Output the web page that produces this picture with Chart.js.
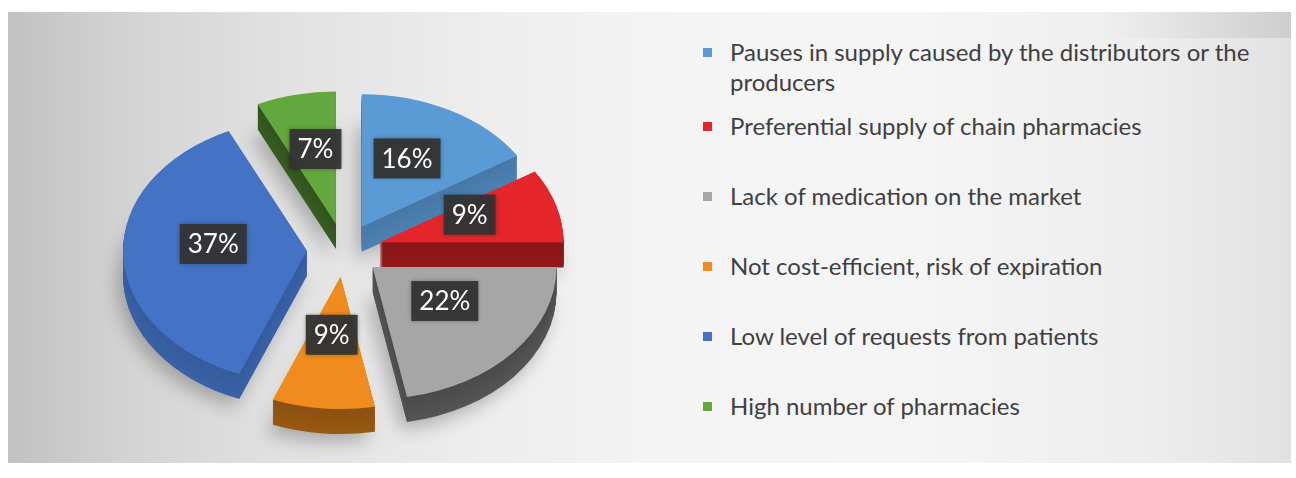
<!DOCTYPE html>
<html>
<head>
<meta charset="utf-8">
<script src="https://cdn.jsdelivr.net/npm/chart.js@4.4.1/dist/chart.umd.min.js"></script>
<style>
  html, body { margin: 0; padding: 0; background: #fff; }
  #wrap { position: relative; width: 1296px; height: 478px; overflow: hidden; }
  #panel {
    position: absolute; left: 8px; top: 12px; width: 1283px; height: 451px;
    background: linear-gradient(to right, #c1c1c1 0%, #d3d3d3 9%, #e2e2e2 22%, #eeeeee 38%, #f4f4f4 52%, #f5f5f5 70%, #eeeeee 88%, #e2e2e2 100%);
  }
  #panel::after {
    content: ''; position: absolute; left: 0; right: 0; top: 0; height: 26px;
    background: linear-gradient(to right, rgba(0,0,0,0) 85%, rgba(0,0,0,0.09) 100%);
  }
  #pie { position: absolute; left: 0; top: 0; }
  #legend {
    position: absolute; left: 703px; top: 37px; width: 580px; margin: 0; padding: 0;
    list-style: none; font-family: Lato, "Open Sans", sans-serif; font-size: 24px;
    line-height: 30px; color: #404040;
  }
  #legend li { position: relative; padding-left: 27px; }
  #legend li + li { margin-top: 40px; }
  #legend li:nth-child(2) { margin-top: 14px; }
  #legend span.sw { position: absolute; left: 0; top: 11px; width: 9px; height: 9px; }
</style>
</head>
<body>
<div id="wrap">
  <div id="panel"></div>
  <canvas id="pie" width="688" height="478"></canvas>
  <ul id="legend"></ul>
</div>
<script>
// data
const categories = [
  'Pauses in supply caused by the distributors or the producers',
  'Preferential supply of chain pharmacies',
  'Lack of medication on the market',
  'Not cost-efficient, risk of expiration',
  'Low level of requests from patients',
  'High number of pharmacies'
];
const shares = [16, 9, 22, 9, 37, 7];
const sliceColors = ['#5b9bd5', '#e4262b', '#a6a6a6', '#f08c1e', '#4472c4', '#62a83d'];
// how dark the side wall of each slice is
const sideShade = [0.78, 0.6, 0.45, 0.58, 0.8, 0.5];

// 3d look
const tilt = 0.72;
const depth = 25;
const explode = 37;

// html legend
const legendEl = document.getElementById('legend');
categories.forEach((name, i) => {
  const li = document.createElement('li');
  const sw = document.createElement('span');
  sw.className = 'sw';
  sw.style.background = sliceColors[i];
  li.appendChild(sw);
  li.appendChild(document.createTextNode(name));
  legendEl.appendChild(li);
});

function squash(ctx, cy) {
  ctx.translate(0, cy);
  ctx.scale(1, tilt);
  ctx.translate(0, -cy);
}

// draw an arc pushed out from the centre
function drawOut(ctx, a) {
  const mid = (a.startAngle + a.endAngle) / 2;
  ctx.save();
  ctx.translate(Math.cos(mid) * explode, Math.sin(mid) * explode);
  a.draw(ctx);
  ctx.restore();
}

const pie3d = {
  id: 'pie3d',
  beforeDatasetsDraw(chart) {
    const ctx = chart.ctx;
    const arcs = chart.getDatasetMeta(0).data;
    const cy = arcs[0].y;
    ctx.save();
    squash(ctx, cy);
    // soft shadow under the pie
    ctx.save();
    ctx.translate(-6, (depth + 8) / tilt);
    ctx.filter = 'blur(9px) brightness(0)';
    ctx.globalAlpha = 0.25;
    arcs.forEach(a => drawOut(ctx, a));
    ctx.restore();
    // side walls
    for (let d = depth; d >= 1; d--) {
      ctx.save();
      ctx.translate(0, d / tilt);
      arcs.forEach((a, i) => {
        ctx.filter = 'brightness(' + (sideShade[i] + 0.06 * (d / depth)) + ')';
        drawOut(ctx, a);
      });
      ctx.restore();
    }
    // top faces
    arcs.forEach(a => drawOut(ctx, a));
    ctx.restore();
    return false;
  },
  afterDraw(chart) {
    const ctx = chart.ctx;
    const arcs = chart.getDatasetMeta(0).data;
    ctx.save();
    ctx.font = '26px Lato, "Open Sans", sans-serif';
    ctx.textAlign = 'center';
    ctx.textBaseline = 'middle';
    arcs.forEach((a, i) => {
      const mid = (a.startAngle + a.endAngle) / 2;
      const r = a.outerRadius * 0.51 + explode;
      const x = a.x + Math.cos(mid) * r;
      const y = a.y + Math.sin(mid) * r * tilt - 9;
      const txt = shares[i] + '%';
      const w = ctx.measureText(txt).width + 16;
      const h = 40;
      ctx.shadowColor = 'rgba(0,0,0,0.35)';
      ctx.shadowBlur = 5;
      ctx.fillStyle = 'rgba(52,52,52,0.95)';
      ctx.fillRect(x - w / 2, y - h / 2, w, h);
      ctx.shadowColor = 'transparent';
      ctx.fillStyle = '#ffffff';
      ctx.fillText(txt, x, y + 1);
    });
    ctx.restore();
  }
};

new Chart(document.getElementById('pie'), {
  type: 'pie',
  data: {
    labels: categories,
    datasets: [{
      data: shares,
      backgroundColor: sliceColors,
      borderWidth: 0
    }]
  },
  options: {
    responsive: false,
    animation: false,
    radius: 184,
    layout: { padding: { top: 22 } },
    events: [],
    plugins: {
      legend: { display: false },
      tooltip: { enabled: false }
    }
  },
  plugins: [pie3d]
});
</script>
</body>
</html>
